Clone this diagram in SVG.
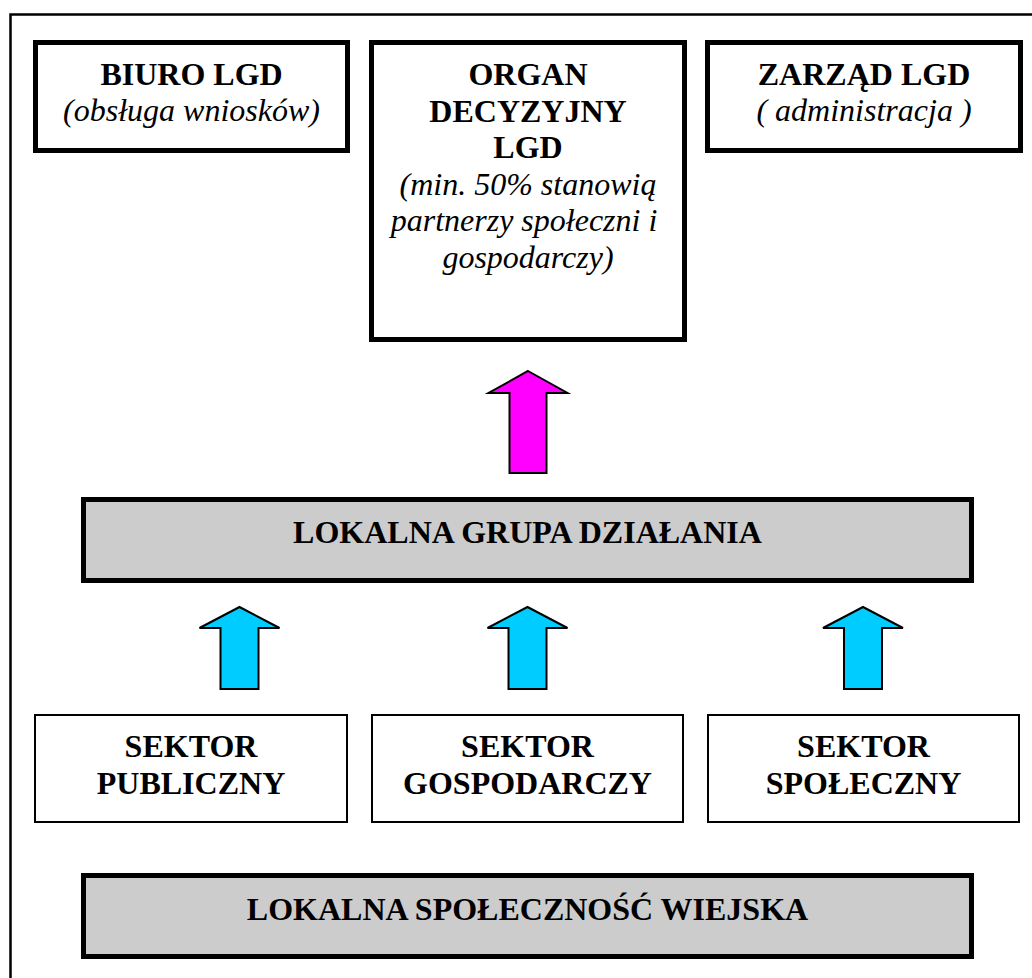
<svg xmlns="http://www.w3.org/2000/svg" width="1032" height="978" viewBox="0 0 1032 978">
  <style>
    .thick { fill: #ffffff; stroke: #000000; stroke-width: 5; }
    .thin { fill: #ffffff; stroke: #000000; stroke-width: 2; }
    .band { fill: #cccccc; stroke: #000000; stroke-width: 5; }
    .b { font-family: "Liberation Serif", "Times New Roman", serif; font-weight: bold; font-size: 32px; text-anchor: middle; fill: #000000; }
    .i { font-family: "Liberation Serif", "Times New Roman", serif; font-style: italic; font-size: 32px; text-anchor: middle; fill: #000000; }
    .up { stroke: #000000; stroke-width: 2; stroke-linejoin: miter; }
    .cyan { fill: #00ccff; }
    .magenta { fill: #ff00ff; }
  </style>
  <defs>
    <!-- block arrow pointing up, tip at origin -->
    <path id="arrowSmall" d="M0,0 L40,21 L19,21 L19,82 L-19,82 L-19,21 L-40,21 Z"/>
    <path id="arrowLarge" d="M0,0 L39.5,22 L18.5,22 L18.5,102 L-18.5,102 L-18.5,22 L-39.5,22 Z"/>
  </defs>

  <rect width="1032" height="978" fill="#ffffff"/>

  <!-- outer frame -->
  <g id="frame">
    <path d="M10.5,980 V14.5 H1034" fill="none" stroke="#000000" stroke-width="2.5"/>
  </g>

  <g id="biuro">
    <rect class="thick" x="35.5" y="42.5" width="312" height="108"/>
    <text class="b" x="191.5" y="85">BIURO LGD</text>
    <text class="i" x="191.5" y="121">(obsługa wniosków)</text>
  </g>

  <g id="organ">
    <rect class="thick" x="371.5" y="42.5" width="313" height="297"/>
    <text class="b" x="528" y="85">ORGAN</text>
    <text class="b" x="528" y="121.5">DECYZYJNY</text>
    <text class="b" x="528" y="158">LGD</text>
    <text class="i" x="528" y="194.5">(min. 50% stanowią</text>
    <text class="i" x="524" y="231">partnerzy społeczni i</text>
    <text class="i" x="528" y="267.5">gospodarczy)</text>
  </g>

  <g id="zarzad">
    <rect class="thick" x="707.5" y="42.5" width="313" height="108"/>
    <text class="b" x="864" y="85">ZARZĄD LGD</text>
    <text class="i" x="864" y="121">( administracja )</text>
  </g>

  <g id="lgd">
    <rect class="band" x="83.5" y="499.5" width="888" height="81"/>
    <text class="b" x="527.5" y="543">LOKALNA GRUPA DZIAŁANIA</text>
  </g>

  <g id="sektor-publiczny">
    <rect class="thin" x="35" y="715" width="312" height="107"/>
    <text class="b" x="191" y="757">SEKTOR</text>
    <text class="b" x="191" y="794">PUBLICZNY</text>
  </g>

  <g id="sektor-gospodarczy">
    <rect class="thin" x="372" y="715" width="311" height="107"/>
    <text class="b" x="527.5" y="757">SEKTOR</text>
    <text class="b" x="527.5" y="794">GOSPODARCZY</text>
  </g>

  <g id="sektor-spoleczny">
    <rect class="thin" x="708" y="715" width="311" height="107"/>
    <text class="b" x="863.5" y="757">SEKTOR</text>
    <text class="b" x="863.5" y="794">SPOŁECZNY</text>
  </g>

  <g id="spolecznosc">
    <rect class="band" x="83.5" y="875.5" width="888" height="81"/>
    <text class="b" x="527.5" y="920">LOKALNA SPOŁECZNOŚĆ WIEJSKA</text>
  </g>

  <g id="connectors">
    <use href="#arrowLarge" class="up magenta" x="528" y="371"/>
    <use href="#arrowSmall" class="up cyan" x="239.5" y="607"/>
    <use href="#arrowSmall" class="up cyan" x="527.5" y="607"/>
    <use href="#arrowSmall" class="up cyan" x="863" y="607"/>
  </g>
</svg>
